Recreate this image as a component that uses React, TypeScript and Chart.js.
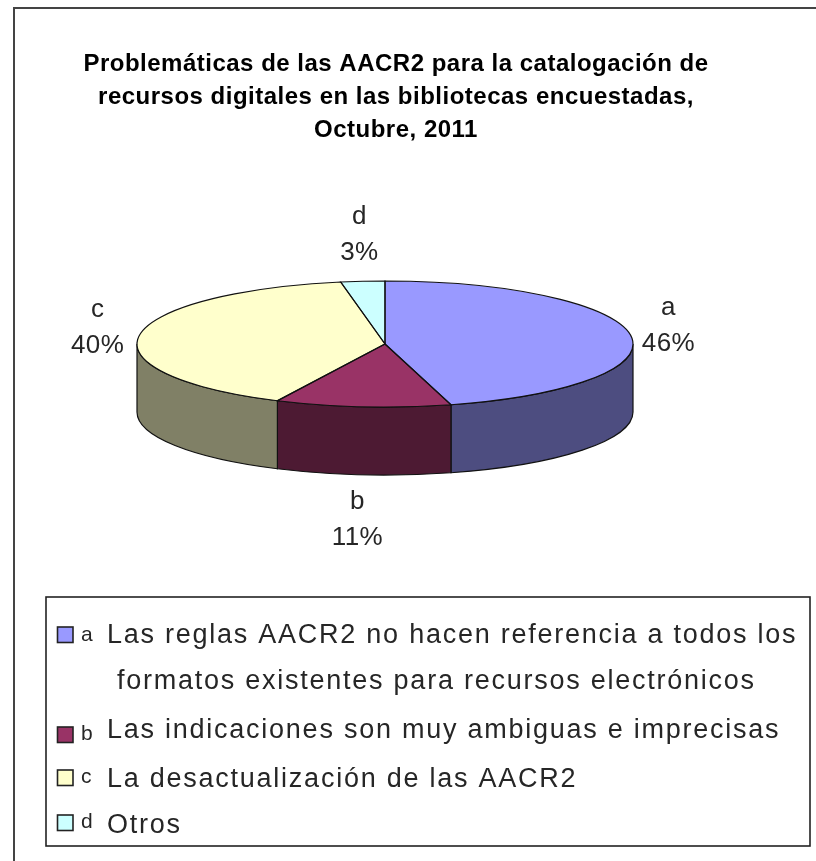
import React, { useEffect, useRef } from "react";
import { Chart, registerables } from "chart.js";

Chart.register(...registerables);

const categories = ["a", "b", "c", "d"];
const values = [16, 4, 14, 1];
const topColors = ["#9999FF", "#993366", "#FFFFCC", "#CCFFFF"];
const wallColors = ["#4D4D80", "#4D1A33", "#808066", "#668080"];
const titleLines = [
  "Problemáticas de las AACR2 para la catalogación de",
  "recursos digitales en las bibliotecas encuestadas,",
  "Octubre, 2011",
];
const legendTexts = [
  ["Las reglas AACR2 no hacen referencia a todos los", "formatos existentes para recursos electrónicos"],
  ["Las indicaciones son muy ambiguas e imprecisas"],
  ["La desactualización de las AACR2"],
  ["Otros"],
];

const FONT = '"Liberation Sans", Arial, sans-serif';
const INK = "#262626";

const CX = 385;
const CY = 344;
const TILT = 63 / 248;
const DEPTH = 68;

const pie3d = {
  id: "pie3d",
  beforeDraw(chart: any) {
    const { ctx, width, height } = chart;
    ctx.save();
    ctx.fillStyle = "#fff";
    ctx.fillRect(0, 0, width, height);
    ctx.strokeStyle = "#444";
    ctx.lineWidth = 2;
    ctx.beginPath();
    ctx.moveTo(width, 8);
    ctx.lineTo(14, 8);
    ctx.lineTo(14, height);
    ctx.stroke();
    ctx.restore();
    (ctx as any).letterSpacing = "0.5px";
  },
  beforeDatasetsDraw(chart: any) {
    const { ctx } = chart;
    (ctx as any).letterSpacing = "0px";
    const arcs = chart.getDatasetMeta(0).data;
    ctx.save();
    ctx.strokeStyle = "#111";
    ctx.lineWidth = 1.2;
    arcs.forEach((arc: any, i: number) => {
      const s = Math.max(arc.startAngle, 0);
      const e = Math.min(arc.endAngle, Math.PI);
      if (s >= e) return;
      const rx = arc.outerRadius;
      const ry = rx * TILT;
      ctx.beginPath();
      ctx.ellipse(CX, CY, rx, ry, 0, s, e);
      ctx.ellipse(CX, CY + DEPTH, rx, ry, 0, e, s, true);
      ctx.closePath();
      ctx.fillStyle = wallColors[i];
      ctx.fill();
      ctx.stroke();
    });
    ctx.restore();
    const first = arcs[0];
    ctx.save();
    ctx.translate(CX, CY);
    ctx.scale(1, TILT);
    ctx.translate(-first.x, -first.y);
  },
  afterDatasetsDraw(chart: any) {
    const { ctx } = chart;
    ctx.restore();
    const arcs = chart.getDatasetMeta(0).data;
    ctx.save();
    ctx.strokeStyle = "#111";
    ctx.lineWidth = 1.2;
    arcs.forEach((arc: any) => {
      const rx = arc.outerRadius;
      ctx.beginPath();
      ctx.moveTo(CX, CY);
      ctx.ellipse(CX, CY, rx, rx * TILT, 0, arc.startAngle, arc.endAngle);
      ctx.closePath();
      ctx.stroke();
    });
    ctx.restore();

    // data labels: category and share, placed around the rim
    const data = chart.data.datasets[0].data as number[];
    const total = data.reduce((a, b) => a + b, 0);
    const nudges = [[1, -5], [-2, 14], [-5, -3], [0, -15]];
    ctx.save();
    ctx.font = `26px ${FONT}`;
    (ctx as any).letterSpacing = "0.4px";
    ctx.fillStyle = INK;
    ctx.textAlign = "center";
    ctx.textBaseline = "alphabetic";
    arcs.forEach((arc: any, i: number) => {
      const mid = (arc.startAngle + arc.endAngle) / 2;
      const rx = arc.outerRadius;
      const lx = CX + (rx + 37) * Math.cos(mid) + nudges[i][0];
      const below = Math.sin(mid) > 0.5 ? DEPTH : 0;
      const ly = CY + (rx * TILT + 31) * Math.sin(mid) + below + nudges[i][1];
      ctx.fillText(chart.data.labels[i], lx, ly - 11);
      ctx.fillText(`${Math.round((data[i] / total) * 100)}%`, lx, ly + 25);
    });
    ctx.restore();

    // legend box
    const baselines = [[643, 689], [738], [787], [833]];
    const markerBase = [641, 740, 783, 828];
    const swatchTop = [627, 727, 770, 815];
    ctx.save();
    ctx.strokeStyle = "#222";
    ctx.lineWidth = 1.6;
    ctx.strokeRect(46, 597, 764, 249);
    ctx.textBaseline = "alphabetic";
    ctx.textAlign = "left";
    categories.forEach((cat, i) => {
      ctx.fillStyle = topColors[i];
      ctx.strokeStyle = "#222";
      ctx.lineWidth = 1.6;
      ctx.fillRect(57.5, swatchTop[i], 15.5, 15.5);
      ctx.strokeRect(57.5, swatchTop[i], 15.5, 15.5);
      ctx.fillStyle = INK;
      ctx.font = `21px ${FONT}`;
      (ctx as any).letterSpacing = "0px";
      ctx.fillText(cat, 81, markerBase[i]);
      ctx.font = `27px ${FONT}`;
      (ctx as any).letterSpacing = "1.75px";
      legendTexts[i].forEach((line, j) => {
        ctx.fillText(line, j === 0 ? 107 : 117, baselines[i][j]);
      });
    });
    ctx.restore();
  },
};

export default function App() {
  const ref = useRef<HTMLCanvasElement | null>(null);
  useEffect(() => {
    if (!ref.current) return;
    const chart = new Chart(ref.current, {
      type: "pie",
      data: {
        labels: categories,
        datasets: [
          {
            data: values,
            backgroundColor: topColors,
            borderWidth: 0,
            radius: 248,
          } as any,
        ],
      },
      options: {
        responsive: false,
        animation: false,
        layout: { padding: { left: 0, right: 24, top: 0, bottom: 0 } },
        plugins: {
          legend: { display: false },
          tooltip: { enabled: false },
          title: {
            display: true,
            text: titleLines,
            color: "#000",
            align: "center",
            font: { family: FONT, size: 24, weight: "bold", lineHeight: 33 / 24 },
            padding: { top: 48, bottom: 0 },
          },
        },
      },
      plugins: [pie3d],
    });
    return () => chart.destroy();
  }, []);
  return (
    <div style={{ position: "absolute", left: 0, top: 0 }}>
      <canvas ref={ref} width={816} height={861} style={{ display: "block" }} />
    </div>
  );
}
